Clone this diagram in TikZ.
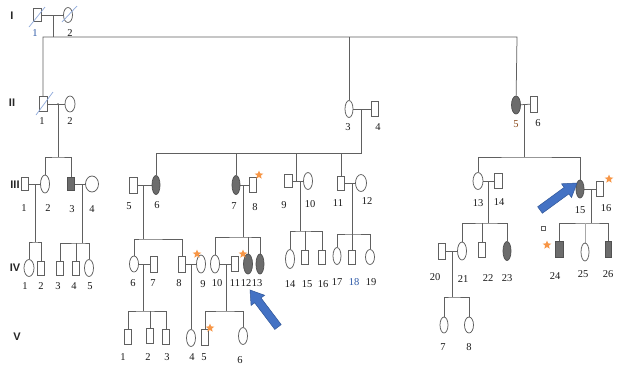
\documentclass[tikz,border=0pt]{standalone}
\usepackage{fontspec}
\setmainfont{Liberation Serif}
\setsansfont{Liberation Sans}
\usetikzlibrary{shapes.geometric,backgrounds,calc}
\definecolor{lc}{HTML}{606060}
\definecolor{lc2}{HTML}{A8A8A8}
\definecolor{af}{HTML}{6C6C6C}
\definecolor{starc}{HTML}{F79646}
\definecolor{arf}{HTML}{4472C4}
\definecolor{ard}{HTML}{2F5597}
\definecolor{slc}{HTML}{8EA9DB}
\definecolor{numc}{HTML}{1A1A1A}
\definecolor{bluenum}{HTML}{2E5AA8}
\definecolor{brnum}{HTML}{8B4A1A}
\begin{document}
\begin{tikzpicture}[x=1pt,y=-1pt,
  ln/.style={draw=lc, line width=0.75pt},
  mal/.style={rectangle, draw=lc, line width=0.75pt, fill=white, inner sep=0pt, minimum width=7pt, minimum height=15pt},
  fem/.style={ellipse, draw=lc, line width=0.75pt, fill=white, inner sep=0pt, minimum width=9pt, minimum height=17pt},
  aff/.style={fill=af, draw=af!75!black},
  sz/.style 2 args={minimum width=#1pt, minimum height=#2pt},
  num/.style={font=\fontsize{10.5}{10.5}\selectfont, text=numc, inner sep=0pt},
  genl/.style={font=\sffamily\bfseries\fontsize{11}{11}\selectfont, text=black!85, inner sep=0pt},
  orstar/.style={star, star points=5, star point ratio=2.3, fill=starc, minimum size=9pt, inner sep=0pt},
  sl/.style={draw=slc, line width=0.7pt},
  bigarrow/.style={fill=arf, draw=ard, line width=0.5pt}
]
\useasboundingbox (0,0) rectangle (620,365);

% generation labels
\node[genl] (gI)   at (12,16)  {I};
\node[genl] (gII)  at (12,103) {II};
\node[genl] (gIII) at (15,185) {III};
\node[genl] (gIV)  at (15,268) {IV};
\node[genl] (gV)   at (17,337) {V};

% ---------- Generation I
\node[mal,sz={8}{13}] (I1) at (37,15) {};
\node[fem,sz={9}{15}] (I2) at (68,15) {};
% ---------- Generation II
\node[mal,sz={8}{15}] (II1) at (43,104) {};
\node[fem,sz={10}{16}] (II2) at (70,104) {};
\node[fem,sz={8}{17}] (II3) at (349,109) {};
\node[mal,sz={7}{15}] (II4) at (375,109) {};
\node[fem,aff,sz={9}{18}] (II5) at (516,105) {};
\node[mal,sz={7}{16}] (II6) at (534,104) {};
% ---------- Generation III
\node[mal,sz={7}{13}] (III1) at (25,184) {};
\node[fem,sz={9}{18}] (III2) at (45,184) {};
\node[mal,aff,sz={7}{13}] (III3) at (71,184) {};
\node[fem,sz={13}{16}] (III4) at (92,184) {};
\node[mal,sz={8}{16}] (III5) at (133,185) {};
\node[fem,aff,sz={8}{19}] (III6) at (156,185) {};
\node[fem,aff,sz={8}{19}] (III7) at (236,185) {};
\node[mal,sz={7}{15}] (III8) at (253,185) {};
\node[mal,sz={8}{13}] (III9) at (288,181) {};
\node[fem,sz={9}{17}] (III10) at (308,181) {};
\node[mal,sz={7}{14}] (III11) at (341,183) {};
\node[fem,sz={11}{17}] (III12) at (361,183) {};
\node[fem,sz={10}{17}] (III13) at (478,181) {};
\node[mal,sz={8}{15}] (III14) at (498,181) {};
\node[fem,aff,sz={8}{18}] (III15) at (580,189) {};
\node[mal,sz={7}{15}] (III16) at (600,189) {};
% ---------- Generation IV
\node[fem,sz={10}{17}] (IV1) at (29,268) {};
\node[mal,sz={7}{14}] (IV2) at (41,268) {};
\node[mal,sz={7}{14}] (IV3) at (60,268) {};
\node[mal,sz={7}{14}] (IV4) at (76,268) {};
\node[fem,sz={9}{17}] (IV5) at (89,268) {};
\node[fem,sz={9}{16}] (IV6) at (134,264) {};
\node[mal,sz={7}{16}] (IV7) at (154,264) {};
\node[mal,sz={7}{16}] (IV8) at (182,264) {};
\node[fem,sz={9}{18}] (IV9) at (201,264) {};
\node[fem,sz={9}{18}] (IV10) at (215,264) {};
\node[mal,sz={7}{15}] (IV11) at (235,264) {};
\node[fem,aff,sz={9}{20}] (IV12) at (248,264) {};
\node[fem,aff,sz={8}{20}] (IV13) at (260,264) {};
\node[fem,sz={9}{19}] (IV14) at (290,259) {};
\node[mal,sz={7}{14}] (IV15) at (305,257) {};
\node[mal,sz={7}{14}] (IV16) at (322,257) {};
\node[fem,sz={8}{17}] (IV17) at (337,256) {};
\node[mal,sz={7}{14}] (IV18) at (352,257) {};
\node[fem,sz={9}{15}] (IV19) at (370,257) {};
\node[mal,sz={7}{16}] (IV20) at (442,251) {};
\node[fem,sz={9}{18}] (IV21) at (462,251) {};
\node[mal,sz={7}{15}] (IV22) at (482,250) {};
\node[fem,aff,sz={8}{19}] (IV23) at (507,251) {};
\node[mal,aff,sz={8}{16}] (IV24) at (559,249) {};
\node[fem,sz={8}{18}] (IV25) at (585,252) {};
\node[mal,aff,sz={6}{16}] (IV26) at (608,249) {};
% ---------- Generation V
\node[mal,sz={7}{15}] (V1) at (128,337) {};
\node[mal,sz={7}{15}] (V2) at (150,336) {};
\node[mal,sz={7}{15}] (V3) at (166,337) {};
\node[fem,sz={9}{17}] (V4) at (191,338) {};
\node[mal,sz={7}{16}] (V5) at (205,337) {};
\node[fem,sz={9}{17}] (V6) at (243,336) {};
\node[fem,sz={8}{16}] (V7) at (444,325) {};
\node[fem,sz={9}{16}] (V8) at (469,325) {};

% junction coordinates
\coordinate (mI) at (53,15);
\coordinate (tR) at (517,37);
\coordinate (mII12) at (58,104);   \coordinate (sII12) at (58,157);
\coordinate (mII34) at (361,109);  \coordinate (sII34) at (361,153);
\coordinate (mII56) at (524,104);  \coordinate (sII56) at (524,157);
\coordinate (mIII12) at (35,184);  \coordinate (sIII12) at (35,242);
\coordinate (mIII34) at (82,184);  \coordinate (sIII34) at (82,243);
\coordinate (mIII56) at (143,185); \coordinate (sIII56) at (143,239);
\coordinate (mIII78) at (243,185); \coordinate (sIII78) at (243,237);
\coordinate (jIII9) at (296,181);
\coordinate (mIII910) at (300,181); \coordinate (sIII910) at (300,231);
\coordinate (mIII1112) at (352,183); \coordinate (sIII1112) at (352,234);
\coordinate (mIII1314) at (488,181); \coordinate (sIII1314) at (488,223);
\coordinate (mIII1516) at (591,189); \coordinate (sIII1516) at (591,223);
\coordinate (mIV67) at (143,264);  \coordinate (sIV67) at (143,311);
\coordinate (mIV89) at (191,264);
\coordinate (mIV1011) at (226,264); \coordinate (sIV1011) at (226,311);
\coordinate (mIV2021) at (452,251); \coordinate (sIV2021) at (452,297);

\begin{pgfonlayer}{background}
\fill[white] (0,0) rectangle (620,365);
% Generation I
\draw[ln] (I1) -- (I2);
\draw[ln] (mI) -- (mI |- tR);
\draw[ln] (II1) |- (tR) -- (II5);
\draw[ln] (II3) -- (II3 |- tR);
% Generation II families
\draw[ln] (II1) -- (II2);
\draw[ln] (mII12) -- (sII12);
\draw[ln] (III2) |- (sII12) -| (III3);
\draw[ln] (II3) -- (II4);
\draw[ln] (mII34) -- (sII34) -| (III6);
\draw[ln] (III7) -- (III7 |- sII34);
\draw[ln] (jIII9) -- (jIII9 |- sII34);
\draw[ln] (III11) -- (III11 |- sII34);
\draw[ln] (II5) -- (II6);
\draw[ln] (mII56) -- (sII56);
\draw[ln] (III13) |- (sII56) -| (III15);
% Generation III families
\draw[ln] (III1) -- (III2);
\draw[ln] (mIII12) -- (sIII12);
\draw[ln] (IV1) |- (sIII12) -| (IV2);
\draw[ln] (III3) -- (III4);
\draw[ln] (mIII34) -- (sIII34);
\draw[ln] (IV3) |- (sIII34) -| (IV5);
\draw[ln] (IV4) -- (IV4 |- sIII34);
\draw[ln] (III5) -- (III6);
\draw[ln] (mIII56) -- (sIII56);
\draw[ln] (IV6) |- (sIII56) -| (IV8);
\draw[ln] (III7) -- (III8);
\draw[ln] (mIII78) -- (sIII78);
\draw[ln] (IV10) |- (sIII78) -| (IV13);
\draw[ln] (IV12) -- (IV12 |- sIII78);
\draw[ln] (III9) -- (III10);
\draw[ln] (mIII910) -- (sIII910);
\draw[ln] (IV14) |- (sIII910) -| (IV16);
\draw[ln] (IV15) -- (IV15 |- sIII910);
\draw[ln] (III11) -- (III12);
\draw[ln] (mIII1112) -- (sIII1112);
\draw[ln] (IV17) |- (sIII1112) -| (IV19);
\draw[ln] (IV18) -- (IV18 |- sIII1112);
\draw[ln] (III13) -- (III14);
\draw[ln] (mIII1314) -- (sIII1314);
\draw[ln] (IV21) |- (sIII1314) -| (IV23);
\draw[ln] (IV22) -- (IV22 |- sIII1314);
\draw[ln] (III15) -- (III16);
\draw[ln] (mIII1516) -- (sIII1516);
\draw[ln] (IV24) |- (sIII1516) -| (IV26);
\draw[ln, draw=lc2] (IV25) -- (IV25 |- sIII1516);
% Generation IV families
\draw[ln] (IV6) -- (IV7);
\draw[ln] (mIV67) -- (sIV67);
\draw[ln] (V1) |- (sIV67) -| (V3);
\draw[ln] (V2) -- (V2 |- sIV67);
\draw[ln] (IV8) -- (IV9);
\draw[ln] (mIV89) -- (V4);
\draw[ln] (IV10) -- (IV11);
\draw[ln] (mIV1011) -- (sIV1011);
\draw[ln] (V5) |- (sIV1011) -| (V6);
\draw[ln] (IV20) -- (IV21);
\draw[ln] (mIV2021) -- (sIV2021);
\draw[ln] (V7) |- (sIV2021) -| (V8);
\end{pgfonlayer}

\fill[lc] (mII12) circle (1pt);

% deceased slashes
\draw[sl] ($(I1)+(-8,12)$) -- ($(I1)+(8,-8)$);
\draw[sl] ($(I2)+(-6,7)$) -- ($(I2)+(9,-9)$);
\draw[sl] ($(II1)+(-7,11)$) -- ($(II1)+(10,-12)$);

% stars
\node[orstar] (st1) at (259,175) {};
\node[orstar] (st2) at (197,254) {};
\node[orstar] (st3) at (243,254) {};
\node[orstar] (st4) at (210,328) {};
\node[orstar] (st5) at (609,179) {};
\node[orstar] (st6) at (547,245) {};

% small square
\node[draw=lc, line width=0.5pt, minimum size=4pt, inner sep=0pt] (sq) at (543,228) {};

% blue arrows
\coordinate (a1t) at (540,210); \coordinate (a1h) at (577,183);
\coordinate (a1b) at ($(a1h)!13pt!(a1t)$);
\filldraw[bigarrow] ($(a1t)!4pt!90:(a1h)$) -- ($(a1b)!4pt!90:(a1h)$) -- ($(a1b)!8.5pt!90:(a1h)$) -- (a1h)
  -- ($(a1b)!8.5pt!-90:(a1h)$) -- ($(a1b)!4pt!-90:(a1h)$) -- ($(a1t)!4pt!-90:(a1h)$) -- cycle;
\coordinate (a2t) at (278,327); \coordinate (a2h) at (250,290);
\coordinate (a2b) at ($(a2h)!13pt!(a2t)$);
\filldraw[bigarrow] ($(a2t)!4pt!90:(a2h)$) -- ($(a2b)!4pt!90:(a2h)$) -- ($(a2b)!8.5pt!90:(a2h)$) -- (a2h)
  -- ($(a2b)!8.5pt!-90:(a2h)$) -- ($(a2b)!4pt!-90:(a2h)$) -- ($(a2t)!4pt!-90:(a2h)$) -- cycle;

% number labels
\node[num,text=bluenum] (lI1) at (35,33) {1};
\node[num] (lI2) at (70,33) {2};
\node[num] (lII1) at (42,121) {1};
\node[num] (lII2) at (70,121) {2};
\node[num] (lII3) at (348,127) {3};
\node[num] (lII4) at (378,127) {4};
\node[num,text=brnum] (lII5) at (516,124) {5};
\node[num] (lII6) at (538,123) {6};

\node[num] (lIII1) at (24,208) {1};
\node[num] (lIII2) at (48,208) {2};
\node[num] (lIII3) at (72,209) {3};
\node[num] (lIII4) at (92,209) {4};
\node[num] (lIII5) at (129,206) {5};
\node[num] (lIII6) at (157,205) {6};
\node[num] (lIII7) at (234,206) {7};
\node[num] (lIII8) at (255,207) {8};
\node[num] (lIII9) at (284,205) {9};
\node[num] (lIII10) at (310,204) {10};
\node[num] (lIII11) at (338,203) {11};
\node[num] (lIII12) at (367,201) {12};
\node[num] (lIII13) at (478,203) {13};
\node[num] (lIII14) at (499,202) {14};
\node[num] (lIII15) at (580,210) {15};
\node[num] (lIII16) at (606,208) {16};

\node[num] (lIV1) at (25,286) {1};
\node[num] (lIV2) at (41,286) {2};
\node[num] (lIV3) at (58,286) {3};
\node[num] (lIV4) at (74,286) {4};
\node[num] (lIV5) at (90,286) {5};
\node[num] (lIV6) at (133,283) {6};
\node[num] (lIV7) at (153,283) {7};
\node[num] (lIV8) at (179,283) {8};
\node[num] (lIV9) at (203,284) {9};
\node[num] (lIV10) at (217,283) {10};
\node[num] (lIV11) at (235,283) {11};
\node[num] (lIV12) at (246,283) {12};
\node[num] (lIV13) at (257,283) {13};
\node[num] (lIV14) at (290,284) {14};
\node[num] (lIV15) at (307,284) {15};
\node[num] (lIV16) at (323,284) {16};
\node[num] (lIV17) at (337,282) {17};
\node[num,text=bluenum] (lIV18) at (354,282) {18};
\node[num] (lIV19) at (371,282) {19};
\node[num] (lIV20) at (435,277) {20};
\node[num] (lIV21) at (463,279) {21};
\node[num] (lIV22) at (488,278) {22};
\node[num] (lIV23) at (507,278) {23};
\node[num] (lIV24) at (555,276) {24};
\node[num] (lIV25) at (583,274) {25};
\node[num] (lIV26) at (608,274) {26};

\node[num] (lV1) at (123,357) {1};
\node[num] (lV2) at (148,357) {2};
\node[num] (lV3) at (167,357) {3};
\node[num] (lV4) at (192,357) {4};
\node[num] (lV5) at (204,357) {5};
\node[num] (lV6) at (240,360) {6};
\node[num] (lV7) at (443,347) {7};
\node[num] (lV8) at (469,347) {8};
\end{tikzpicture}
\end{document}
